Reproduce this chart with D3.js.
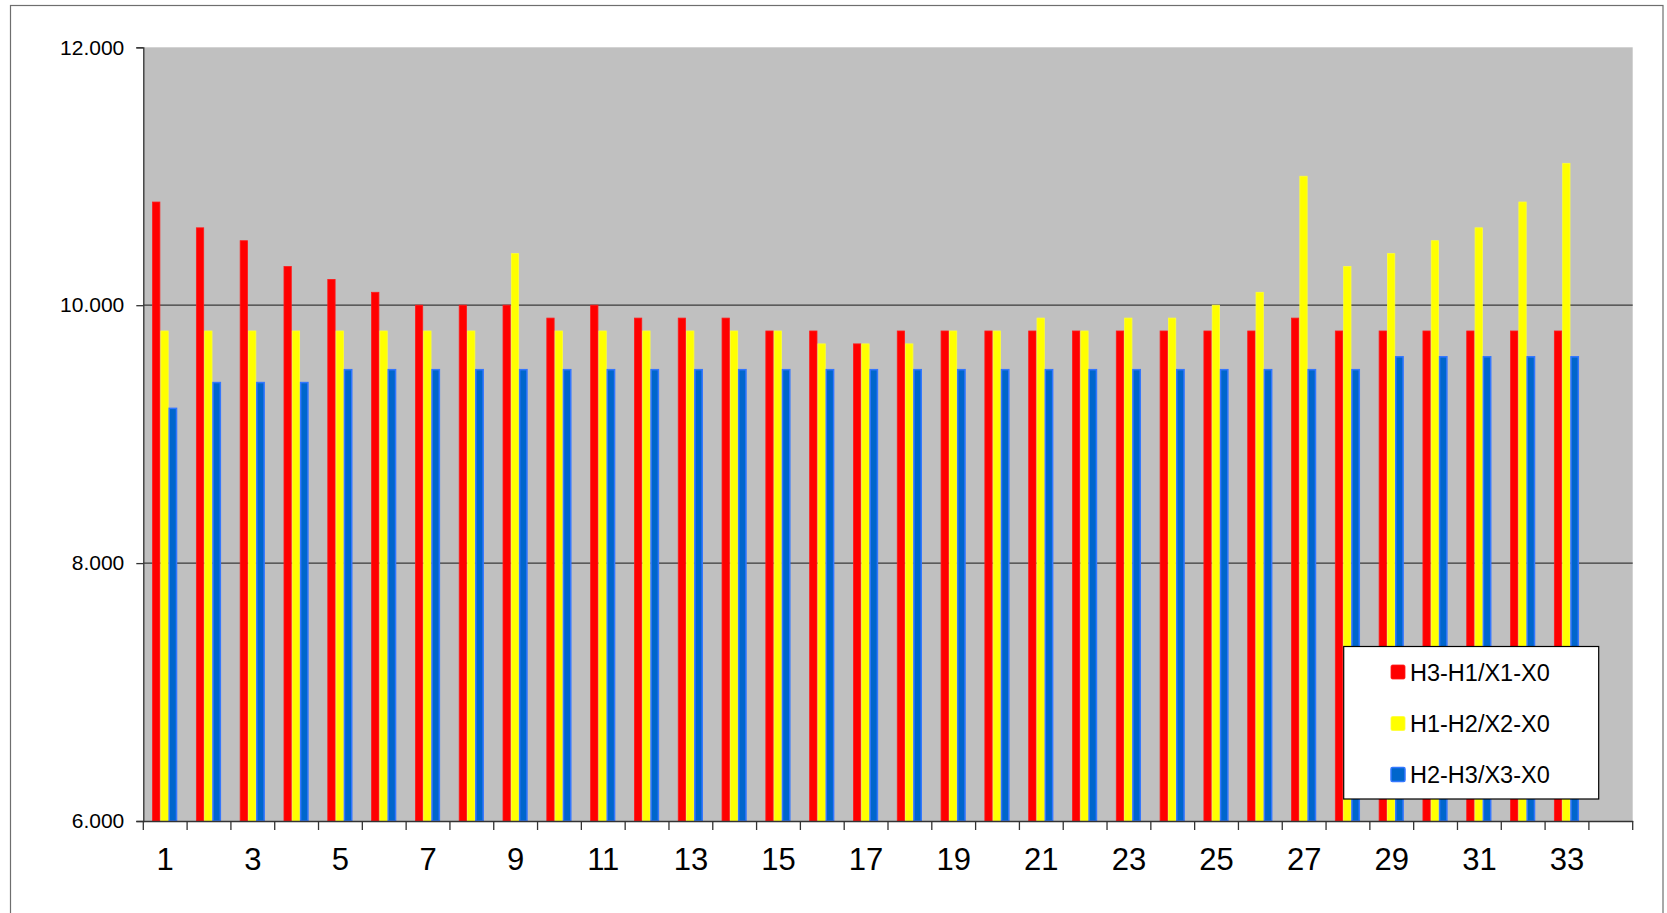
<!DOCTYPE html>
<html>
<head>
<meta charset="utf-8">
<script src="https://cdn.jsdelivr.net/npm/d3@7"></script>
<style>
  html, body { margin: 0; padding: 0; background: #ffffff; }
  svg { display: block; font-family: "Liberation Sans", Arial, sans-serif; }
</style>
</head>
<body>
<svg id="chart" width="1667" height="913"></svg>
<script>
// ---- data ----
const categories = d3.range(1, 35).map(String); // 34 slots, last one empty
const seriesNames = ["H3-H1/X1-X0", "H1-H2/X2-X0", "H2-H3/X3-X0"];
const seriesRed = [10.8, 10.6, 10.5, 10.3, 10.2, 10.1, 10.0, 10.0, 10.0, 9.9, 10.0, 9.9, 9.9, 9.9, 9.8, 9.8, 9.7, 9.8, 9.8, 9.8, 9.8, 9.8, 9.8, 9.8, 9.8, 9.8, 9.9, 9.8, 9.8, 9.8, 9.8, 9.8, 9.8];
const seriesYellow = [9.8, 9.8, 9.8, 9.8, 9.8, 9.8, 9.8, 9.8, 10.4, 9.8, 9.8, 9.8, 9.8, 9.8, 9.8, 9.7, 9.7, 9.7, 9.8, 9.8, 9.9, 9.8, 9.9, 9.9, 10.0, 10.1, 11.0, 10.3, 10.4, 10.5, 10.6, 10.8, 11.1];
const seriesBlue = [9.2, 9.4, 9.4, 9.4, 9.5, 9.5, 9.5, 9.5, 9.5, 9.5, 9.5, 9.5, 9.5, 9.5, 9.5, 9.5, 9.5, 9.5, 9.5, 9.5, 9.5, 9.5, 9.5, 9.5, 9.5, 9.5, 9.5, 9.5, 9.6, 9.6, 9.6, 9.6, 9.6];
const yTickValues = [6, 8, 10, 12];
const yTickLabels = ["6.000", "8.000", "10.000", "12.000"];

const allSeries = [seriesRed, seriesYellow, seriesBlue];
const fills = ["#FF0000", "#FFFF00", "#0066CC"];
const strokes = ["#FF1a1a", "#FFFF33", "#3377FF"];

// ---- layout ----
const svg = d3.select("#chart");
const plot = { left: 143.3, right: 1632.7, top: 47.3, bottom: 821 };

// outer border
svg.append("rect")
  .attr("x", 10.5).attr("y", 5.5)
  .attr("width", 1652.5).attr("height", 920)
  .attr("fill", "#ffffff").attr("stroke", "#6e6e6e").attr("stroke-width", 1.2);

const x = d3.scaleBand().domain(categories).range([plot.left, plot.right]).padding(0);
const y = d3.scaleLinear().domain([6, 12]).range([plot.bottom, plot.top]);
const bw = x.bandwidth();
const xs = d3.scaleBand().domain(d3.range(3))
  .range([0.2 * bw, 0.2 * bw + 3 * 0.19 * bw]).padding(0);

// plot background
svg.append("rect")
  .attr("x", plot.left).attr("y", plot.top)
  .attr("width", plot.right - plot.left).attr("height", plot.bottom - plot.top)
  .attr("fill", "#C0C0C0");

// gridlines
svg.append("g").selectAll("line")
  .data(yTickValues.filter(v => v > 6 && v < 12))
  .join("line")
  .attr("x1", plot.left).attr("x2", plot.right)
  .attr("y1", d => y(d)).attr("y2", d => y(d))
  .attr("stroke", "#3a3a3a").attr("stroke-width", 1.3);

// bars
allSeries.forEach((vals, si) => {
  svg.append("g").selectAll("rect")
    .data(vals)
    .join("rect")
    .attr("x", (d, i) => x(categories[i]) + xs(si) + 0.5)
    .attr("y", d => y(d))
    .attr("width", xs.bandwidth() - 1)
    .attr("height", d => plot.bottom - y(d))
    .attr("fill", fills[si])
    .attr("stroke", strokes[si])
    .attr("stroke-width", si === 2 ? 1.5 : 0.8);
});

// y axis
const yAxis = d3.axisLeft(y)
  .tickValues(yTickValues)
  .tickFormat((d, i) => yTickLabels[i])
  .tickSize(7).tickPadding(12);
const gy = svg.append("g").attr("transform", `translate(${plot.left},0)`).call(yAxis);
gy.select(".domain").attr("stroke", "#333").attr("stroke-width", 1.3);
gy.selectAll(".tick line").attr("stroke", "#333").attr("stroke-width", 1.3);
gy.selectAll(".tick text").attr("font-size", 21).attr("fill", "#000")
  .attr("font-family", "Liberation Sans, Arial, sans-serif");

// x axis: labels at centers (every other), ticks at category boundaries
const xAxis = d3.axisBottom(x)
  .tickValues(categories.filter((c, i) => i % 2 === 0 && i < 33))
  .tickSize(0).tickPadding(27);
const gx = svg.append("g").attr("transform", `translate(0,${plot.bottom})`).call(xAxis);
gx.select(".domain").attr("stroke", "#333").attr("stroke-width", 1.3);
gx.selectAll(".tick text").attr("font-size", 31).attr("fill", "#000")
  .attr("font-family", "Liberation Sans, Arial, sans-serif");

const boundaries = categories.map(c => x(c)).concat([x(categories[categories.length - 1]) + bw]);
svg.append("g").selectAll("line")
  .data(boundaries)
  .join("line")
  .attr("x1", d => d).attr("x2", d => d)
  .attr("y1", plot.bottom).attr("y2", plot.bottom + 9)
  .attr("stroke", "#333").attr("stroke-width", 1.3);

// legend
const lg = svg.append("g");
lg.append("rect")
  .attr("x", 1343.7).attr("y", 646.5)
  .attr("width", 255).attr("height", 152.5)
  .attr("fill", "#ffffff").attr("stroke", "#000").attr("stroke-width", 1.2);
const rowY = [672, 723.5, 774.5];
seriesNames.forEach((name, i) => {
  lg.append("rect")
    .attr("x", 1391).attr("y", rowY[i] - 7)
    .attr("width", 14).attr("height", 14).attr("rx", 1.5)
    .attr("fill", fills[i]).attr("stroke", strokes[i]).attr("stroke-width", i === 2 ? 1.5 : 0.8);
  lg.append("text")
    .attr("x", 1410).attr("y", rowY[i] + 8.5)
    .attr("font-size", 23.5).attr("fill", "#000")
    .text(name);
});
</script>
</body>
</html>
